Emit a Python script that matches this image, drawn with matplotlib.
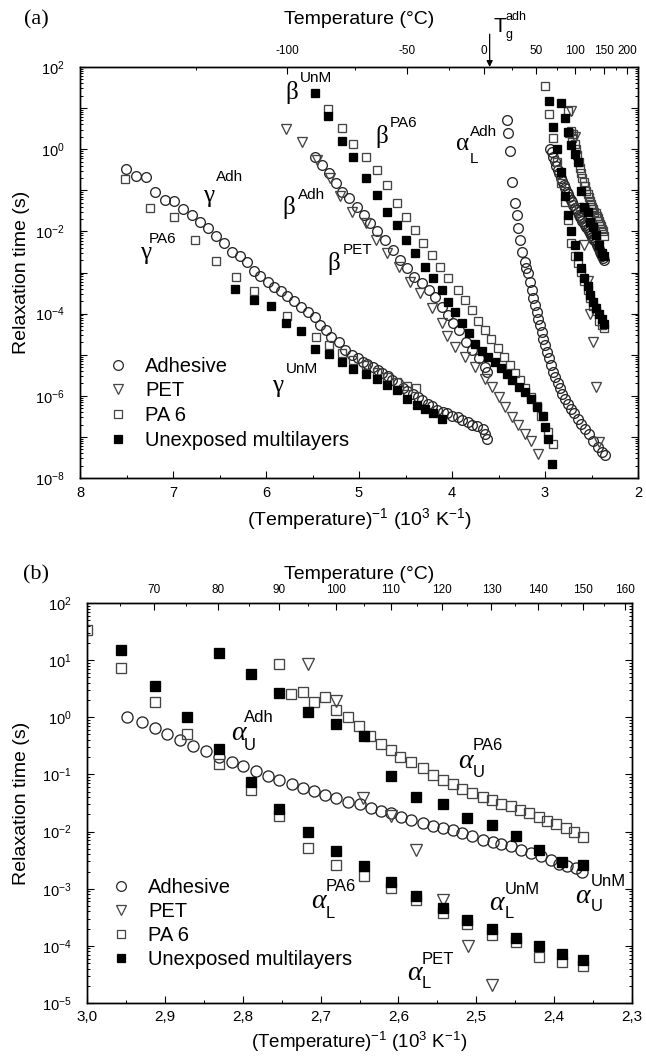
import numpy as np
import matplotlib
matplotlib.use('Agg')
import matplotlib.pyplot as plt
import matplotlib.lines as mlines
from matplotlib.ticker import (FixedLocator, LogLocator, FuncFormatter,
                               NullFormatter, MultipleLocator)

plt.rcParams['font.family'] = ['Liberation Sans', 'DejaVu Sans']
plt.rcParams['mathtext.fontset'] = 'custom'
plt.rcParams['mathtext.rm'] = 'Liberation Sans'
plt.rcParams['mathtext.it'] = 'Liberation Sans:italic'
plt.rcParams['mathtext.bf'] = 'Liberation Sans:bold'
plt.rcParams['axes.unicode_minus'] = False

# ------------------------------------------------------------------
# DATA  (x = 1000/T in 10^3 K^-1, values are log10 of relaxation time / s)
# ------------------------------------------------------------------
# gamma relaxations (panel a)
adh_gamma_x = [7.51, 7.40, 7.29, 7.19, 7.09, 6.99, 6.89, 6.80, 6.71, 6.62,
               6.54, 6.45, 6.37, 6.28, 6.20, 6.13, 6.06, 5.98, 5.91, 5.84,
               5.77, 5.70, 5.62, 5.55, 5.47, 5.42, 5.36, 5.30, 5.22, 5.15,
               5.07, 5.01, 4.96, 4.91, 4.85, 4.80, 4.75, 4.69, 4.64, 4.58,
               4.53, 4.48, 4.42, 4.37, 4.32, 4.26, 4.21, 4.16, 4.10, 4.05,
               4.00, 3.94, 3.89, 3.83, 3.78, 3.73, 3.67, 3.64, 3.62]
adh_gamma_logtau = [-0.48, -0.64, -0.67, -1.05, -1.24, -1.26, -1.45, -1.61, -1.76, -1.92,
                    -2.10, -2.29, -2.51, -2.61, -2.74, -2.96, -3.09, -3.23, -3.35, -3.44,
                    -3.56, -3.70, -3.83, -3.95, -4.08, -4.28, -4.40, -4.57, -4.69, -4.89,
                    -5.01, -5.09, -5.17, -5.23, -5.30, -5.38, -5.44, -5.52, -5.61, -5.70,
                    -5.80, -5.88, -5.96, -6.04, -6.11, -6.19, -6.26, -6.34, -6.40, -6.43,
                    -6.48, -6.52, -6.58, -6.64, -6.70, -6.74, -6.80, -6.92, -7.04]
pa6_gamma_x = [7.52, 7.25, 6.99, 6.76, 6.54, 6.32, 6.13, 5.77, 5.46, 5.32,
               5.18, 5.06, 4.93, 4.81, 4.70, 4.59, 4.48, 4.39]
pa6_gamma_logtau = [-0.73, -1.43, -1.64, -2.21, -2.71, -3.10, -3.44, -4.06, -4.58, -4.77,
                    -4.96, -5.12, -5.26, -5.42, -5.54, -5.66, -5.77, -5.82]
unm_gamma_x = [6.33, 6.13, 5.95, 5.78, 5.62, 5.47, 5.32, 5.18, 5.06, 4.93,
               4.81, 4.70, 4.59, 4.48, 4.38, 4.29, 4.20, 4.11]
unm_gamma_logtau = [-3.39, -3.68, -3.82, -4.22, -4.43, -4.85, -4.98, -5.17, -5.34, -5.46,
                    -5.58, -5.74, -5.87, -6.07, -6.23, -6.31, -6.43, -6.56]

# beta relaxations (panel a)
adh_beta_x = [5.47, 5.40, 5.32, 5.25, 5.18, 5.11, 5.02, 4.95, 4.88, 4.81,
              4.72, 4.63, 4.56, 4.48, 4.41, 4.32, 4.25, 4.18, 4.11, 4.04,
              3.99, 3.93, 3.85, 3.78, 3.71, 3.64, 3.62]
adh_beta_logtau = [-0.18, -0.38, -0.58, -0.83, -1.03, -1.19, -1.40, -1.60, -1.80, -2.00,
                   -2.21, -2.45, -2.70, -2.90, -3.10, -3.26, -3.43, -3.59, -3.83, -4.04,
                   -4.24, -4.40, -4.70, -4.89, -5.09, -5.30, -5.42]
pet_beta_x = [5.78, 5.61, 5.45, 5.31, 5.20, 5.07, 4.93, 4.82, 4.70, 4.57,
              4.45, 4.34, 4.22, 4.11, 4.05, 3.97, 3.86, 3.75, 3.65, 3.57,
              3.50, 3.43, 3.36, 3.29, 3.22, 3.15, 3.07]
pet_beta_logtau = [0.48, 0.17, -0.26, -0.70, -1.15, -1.52, -1.80, -2.21, -2.53, -2.86,
                   -3.22, -3.51, -3.87, -4.24, -4.55, -4.81, -5.05, -5.30, -5.58, -5.79,
                   -6.03, -6.27, -6.52, -6.72, -6.92, -7.09, -7.41]
pa6_beta_x = [5.33, 5.18, 5.06, 4.93, 4.81, 4.70, 4.59, 4.50, 4.40, 4.31,
              4.22, 4.13, 4.04, 3.94, 3.86, 3.79, 3.72, 3.65, 3.58, 3.51,
              3.44, 3.38, 3.32, 3.27, 3.21, 3.15, 3.09, 3.04, 2.97, 2.91]
pa6_beta_logtau = [0.98, 0.52, 0.13, -0.18, -0.50, -0.87, -1.31, -1.64, -1.96, -2.29,
                   -2.57, -2.86, -3.14, -3.43, -3.67, -3.91, -4.18, -4.40, -4.62, -4.84,
                   -5.05, -5.25, -5.45, -5.62, -5.82, -6.03, -6.25, -6.48, -6.88, -7.17]
unm_beta_x = [5.47, 5.33, 5.18, 5.06, 4.93, 4.81, 4.70, 4.59, 4.50, 4.40,
              4.29, 4.20, 4.11, 4.04, 3.97, 3.89, 3.82, 3.75, 3.68, 3.61,
              3.54, 3.47, 3.41, 3.35, 3.28, 3.22, 3.15, 3.09, 3.02, 3.00,
              2.97, 2.92]
unm_beta_logtau = [1.37, 0.80, 0.19, -0.18, -0.70, -1.11, -1.52, -1.84, -2.21, -2.53,
                   -2.86, -3.14, -3.43, -3.71, -3.96, -4.24, -4.48, -4.73, -4.92, -5.05,
                   -5.18, -5.32, -5.46, -5.62, -5.78, -5.91, -6.08, -6.27, -6.48, -6.76,
                   -7.04, -7.65]

# lower alpha relaxation of the adhesive (panel a only)
adh_alphaL_x = [3.41, 3.40, 3.38, 3.35, 3.32, 3.30, 3.29, 3.27, 3.25, 3.22,
                3.20, 3.179, 3.161, 3.143, 3.125, 3.107, 3.089, 3.072, 3.054, 3.036,
                3.018, 3.0, 2.982, 2.957, 2.936, 2.911, 2.893, 2.864, 2.839, 2.814,
                2.785, 2.757, 2.721, 2.686, 2.649, 2.614, 2.571, 2.528, 2.482, 2.435,
                2.392, 2.356]
adh_alphaL_logtau = [0.72, 0.39, -0.05, -0.79, -1.31, -1.60, -1.92, -2.21, -2.49, -2.74,
                     -2.90, -3.02, -3.22, -3.43, -3.63, -3.79, -3.96, -4.12, -4.28, -4.44,
                     -4.61, -4.77, -4.93, -5.09, -5.26, -5.42, -5.54, -5.70, -5.82, -5.95,
                     -6.07, -6.19, -6.31, -6.43, -6.56, -6.68, -6.80, -6.92, -7.09, -7.25,
                     -7.37, -7.45]

# alpha relaxations (both panels)
adh_alphaU_x = [2.948, 2.93, 2.913, 2.897, 2.88, 2.864, 2.847, 2.83, 2.814, 2.80,
                2.783, 2.768, 2.753, 2.737, 2.723, 2.708, 2.694, 2.68, 2.665, 2.65,
                2.635, 2.622, 2.609, 2.597, 2.584, 2.569, 2.556, 2.543, 2.53, 2.518,
                2.505, 2.492, 2.479, 2.468, 2.456, 2.443, 2.43, 2.417, 2.404, 2.394,
                2.383, 2.372, 2.364]
adh_alphaU_logtau = [0.01, -0.08, -0.18, -0.29, -0.40, -0.50, -0.59, -0.69, -0.78, -0.86,
                     -0.94, -1.03, -1.10, -1.17, -1.24, -1.29, -1.36, -1.42, -1.48, -1.52,
                     -1.59, -1.64, -1.68, -1.74, -1.80, -1.85, -1.90, -1.94, -1.98, -2.03,
                     -2.08, -2.14, -2.18, -2.22, -2.26, -2.32, -2.38, -2.43, -2.50, -2.56,
                     -2.60, -2.64, -2.70]
pet_alpha_x = [2.716, 2.68, 2.646, 2.61, 2.577, 2.543, 2.511, 2.48, 2.449, 2.42]
pet_alpha_logtau = [0.94, 0.29, -1.42, -1.72, -2.32, -3.20, -4.00, -4.69, -5.79, -7.13]
pa6_alphaU_x = [2.753, 2.738, 2.723, 2.708, 2.694, 2.68, 2.665, 2.651, 2.636, 2.623,
                2.61, 2.598, 2.584, 2.569, 2.556, 2.543, 2.53, 2.518, 2.505, 2.492,
                2.48, 2.468, 2.456, 2.444, 2.432, 2.42, 2.409, 2.397, 2.385, 2.374,
                2.363]
pa6_alphaU_logtau = [0.93, 0.40, 0.44, 0.27, 0.36, 0.13, 0.0, -0.15, -0.32, -0.46,
                     -0.57, -0.69, -0.79, -0.89, -1.01, -1.10, -1.17, -1.26, -1.33, -1.40,
                     -1.45, -1.52, -1.56, -1.62, -1.68, -1.75, -1.81, -1.87, -1.93, -2.00,
                     -2.10]
pa6_alphaL_x = [3.0, 2.956, 2.913, 2.871, 2.83, 2.79, 2.753, 2.716, 2.68, 2.644,
                2.61, 2.577, 2.543, 2.512, 2.48, 2.449, 2.42, 2.39, 2.363]
pa6_alphaL_logtau = [1.53, 0.86, 0.27, -0.30, -0.82, -1.28, -1.73, -2.29, -2.59, -2.78,
                     -2.99, -3.20, -3.42, -3.62, -3.81, -3.94, -4.19, -4.28, -4.36]
unm_alphaL_x = [2.956, 2.913, 2.871, 2.83, 2.79, 2.753, 2.716, 2.68, 2.644, 2.61,
                2.577, 2.543, 2.512, 2.48, 2.449, 2.42, 2.39, 2.363]
unm_alphaL_logtau = [1.17, 0.55, 0.01, -0.56, -1.13, -1.61, -2.00, -2.34, -2.61, -2.88,
                     -3.13, -3.34, -3.54, -3.71, -3.87, -4.01, -4.14, -4.25]
unm_alphaU_x = [2.83, 2.79, 2.753, 2.716, 2.68, 2.644, 2.61, 2.577, 2.543, 2.512,
                2.48, 2.449, 2.42, 2.39, 2.363]
unm_alphaU_logtau = [1.13, 0.75, 0.43, 0.10, -0.12, -0.32, -1.02, -1.40, -1.52, -1.77,
                     -1.89, -2.08, -2.32, -2.53, -2.59]

legend_labels = ['Adhesive', 'PET', 'PA 6', 'Unexposed multilayers']
top_ticks_a = [-100, -50, 0, 50, 100, 150, 200]
top_minor_a = [-125, -75, -25, 25, 75, 125, 175]
top_ticks_b = [70, 80, 90, 100, 110, 120, 130, 140, 150, 160]
top_minor_b = [65, 75, 85, 95, 105, 115, 125, 135, 145, 155]
TG_ADH_C = 5

# ------------------------------------------------------------------
def inv_T(tc):
    return [1000.0 / (t + 273.15) for t in tc]

STY = {
    'adh': dict(marker='o', mfc='none', mec='#262626'),
    'pet': dict(marker='v', mfc='none', mec='#444444'),
    'pa6': dict(marker='s', mfc='none', mec='#444444'),
    'unm': dict(marker='s', mfc='black', mec='black'),
}


def pts(ax, x, logtau, kind, ms, mew=0.95):
    ax.plot(x, np.power(10.0, logtau), ls='none', ms=ms, mew=mew, **STY[kind])


def greek(ax, x, logy, letter, sup=None, sub=None, size=18, ssize=11,
          italic=False, dx=8, dys=14, dyb=-12):
    y = 10.0 ** logy
    ax.text(x, y, letter, ha='center', va='center', fontsize=size,
            family='Liberation Serif', style='italic' if italic else 'normal')
    if sup:
        ax.annotate(sup, (x, y), xytext=(dx, dys), textcoords='offset pixels',
                    ha='left', va='center', fontsize=ssize)
    if sub:
        ax.annotate(sub, (x, y), xytext=(dx, dyb), textcoords='offset pixels',
                    ha='left', va='center', fontsize=ssize)


def style_axes(ax, xmaj, xmin, yformat):
    ax.set_yscale('log')
    ax.yaxis.set_major_locator(LogLocator(base=10, numticks=30))
    ax.yaxis.set_minor_locator(LogLocator(base=10, subs=np.arange(2, 10), numticks=30))
    ax.yaxis.set_minor_formatter(NullFormatter())
    ax.yaxis.set_major_formatter(FuncFormatter(yformat))
    ax.xaxis.set_major_locator(MultipleLocator(xmaj))
    ax.xaxis.set_minor_locator(MultipleLocator(xmin))
    ax.tick_params(axis='both', which='both', direction='in', top=False, right=True)
    ax.tick_params(axis='both', which='major', length=5, width=0.8)
    ax.tick_params(axis='both', which='minor', length=2.5, width=0.7)
    ax.tick_params(axis='y', which='major', pad=11, labelsize=10.5)
    for s in ax.spines.values():
        s.set_linewidth(1.0)


def top_axis(ax, ticks, minor, fs=8.5, pad=5):
    t = ax.twiny()
    t.set_xlim(ax.get_xlim())
    t.xaxis.set_major_locator(FixedLocator(inv_T(ticks)))
    t.xaxis.set_minor_locator(FixedLocator(inv_T(minor)))
    t.set_xticklabels([str(v) for v in ticks])
    t.tick_params(axis='x', which='both', direction='in', top=True, bottom=False,
                  labeltop=True, labelbottom=False)
    t.tick_params(axis='x', which='major', length=5, width=0.8, labelsize=fs, pad=pad)
    t.tick_params(axis='x', which='minor', length=2.5, width=0.7)
    t.set_xlabel('Temperature (°C)', fontsize=14)
    t.xaxis.set_label_position('top')
    for s in t.spines.values():
        s.set_linewidth(1.0)
    return t


def fmt_even(v, pos):
    e = int(round(np.log10(v)))
    return r'$\mathregular{10^{%d}}$' % e if e % 2 == 0 else ''


def fmt_all(v, pos):
    e = int(round(np.log10(v)))
    return r'$\mathregular{10^{%d}}$' % e


fig = plt.figure(figsize=(6.46, 10.57), dpi=100)
axA = fig.add_axes([80 / 646, 1 - 478 / 1057, 558 / 646, 411 / 1057])
axB = fig.add_axes([87 / 646, 1 - 1003 / 1057, 545 / 646, 400 / 1057])

# ---------------- panel (a) ----------------
msA = dict(adh=7.0, pet=7.5, pa6=6.0, unm=6.0)
pts(axA, adh_gamma_x, adh_gamma_logtau, 'adh', msA['adh'])
pts(axA, adh_beta_x, adh_beta_logtau, 'adh', msA['adh'])
pts(axA, adh_alphaL_x, adh_alphaL_logtau, 'adh', msA['adh'])
pts(axA, adh_alphaU_x, adh_alphaU_logtau, 'adh', msA['adh'])
pts(axA, pet_beta_x, pet_beta_logtau, 'pet', msA['pet'])
pts(axA, pet_alpha_x, pet_alpha_logtau, 'pet', msA['pet'])
pts(axA, pa6_gamma_x, pa6_gamma_logtau, 'pa6', msA['pa6'])
pts(axA, pa6_beta_x, pa6_beta_logtau, 'pa6', msA['pa6'])
pts(axA, pa6_alphaU_x, pa6_alphaU_logtau, 'pa6', msA['pa6'])
pts(axA, pa6_alphaL_x, pa6_alphaL_logtau, 'pa6', msA['pa6'])
pts(axA, unm_gamma_x, unm_gamma_logtau, 'unm', msA['unm'])
pts(axA, unm_beta_x, unm_beta_logtau, 'unm', msA['unm'])
pts(axA, unm_alphaL_x, unm_alphaL_logtau, 'unm', msA['unm'])
pts(axA, unm_alphaU_x, unm_alphaU_logtau, 'unm', msA['unm'])

axA.set_xlim(8, 2)
axA.set_ylim(1e-8, 1e2)
style_axes(axA, 1.0, 0.5, fmt_even)
axA.xaxis.set_major_formatter(FuncFormatter(lambda v, p: '%d' % round(v)))
axA.tick_params(axis='x', which='major', labelsize=10.5, pad=6)
axA.set_xlabel(r'(Temperature)$^{\mathregular{-1}}$ (10$^{\mathregular{3}}$ K$^{\mathregular{-1}}$)', fontsize=14)
axA.xaxis.set_label_coords(0.5, -0.068)
axA.set_ylabel('Relaxation time (s)', fontsize=14)
axA.yaxis.set_label_coords(-0.09, 0.5)
tA = top_axis(axA, top_ticks_a, top_minor_a, pad=7)
tA.xaxis.set_label_coords(0.5, 1.105)

# Tg arrow
xg = 1000.0 / (TG_ADH_C + 273.15)
axA.annotate('', xy=(xg, 1.0), xycoords=('data', 'axes fraction'),
             xytext=(xg, 1.08), textcoords=('data', 'axes fraction'),
             arrowprops=dict(arrowstyle='-|>', color='black', lw=0.9,
                             mutation_scale=9, shrinkA=0, shrinkB=0),
             annotation_clip=False)
axA.annotate('T', xy=(xg, 1.0), xycoords=('data', 'axes fraction'),
             xytext=(4, 40), textcoords='offset pixels', ha='left', va='center',
             fontsize=15, annotation_clip=False)
axA.annotate('adh', xy=(xg, 1.0), xycoords=('data', 'axes fraction'),
             xytext=(16, 50), textcoords='offset pixels', ha='left', va='center',
             fontsize=9, annotation_clip=False)
axA.annotate('g', xy=(xg, 1.0), xycoords=('data', 'axes fraction'),
             xytext=(16, 32), textcoords='offset pixels', ha='left', va='center',
             fontsize=9, annotation_clip=False)

greek(axA, 7.30, -2.53, 'γ', 'PA6', dx=4, dys=14)
greek(axA, 6.62, -1.13, 'γ', 'Adh', dx=8, dys=19)
greek(axA, 5.72, 1.37, 'β', 'UnM', dx=8, dys=15)
greek(axA, 5.75, -1.43, 'β', 'Adh', dx=9, dys=13)
greek(axA, 5.27, -2.78, 'β', 'PET', dx=9, dys=13)
greek(axA, 4.76, 0.30, 'β', 'PA6', dx=8, dys=14)
greek(axA, 3.89, 0.13, 'α', 'Adh', 'L', dx=8, dys=12, dyb=-15)
greek(axA, 5.87, -5.77, 'γ', 'UnM', dx=8, dys=17)


def legend_handles(sizes):
    return [mlines.Line2D([], [], ls='none', ms=sizes[k], mew=0.9, **STY[k])
            for k in ('adh', 'pet', 'pa6', 'unm')]


axA.legend(legend_handles(dict(adh=7, pet=7, pa6=6, unm=6)), legend_labels,
           loc='upper left', bbox_to_anchor=(0.05, 0.295), frameon=False,
           fontsize=14.5, handlelength=1.0, handletextpad=0.85, labelspacing=0.28,
           borderpad=0, borderaxespad=0, numpoints=1)

fig.text(36 / 646, 1 - 20 / 1057, '(a)', family='Liberation Serif', fontsize=16,
         ha='center', va='center')

# ---------------- panel (b) ----------------
msB = dict(adh=8.0, pet=8.0, pa6=6.5, unm=6.5)
pts(axB, adh_alphaU_x, adh_alphaU_logtau, 'adh', msB['adh'])
pts(axB, pet_alpha_x, pet_alpha_logtau, 'pet', msB['pet'])
pts(axB, pa6_alphaU_x, pa6_alphaU_logtau, 'pa6', msB['pa6'])
pts(axB, pa6_alphaL_x, pa6_alphaL_logtau, 'pa6', msB['pa6'])
pts(axB, unm_alphaL_x, unm_alphaL_logtau, 'unm', msB['unm'])
pts(axB, unm_alphaU_x, unm_alphaU_logtau, 'unm', msB['unm'])

axB.set_xlim(3.0, 2.3)
axB.set_ylim(1e-5, 1e2)
style_axes(axB, 0.1, 0.05, fmt_all)
axB.xaxis.set_major_formatter(FuncFormatter(lambda v, p: ('%.1f' % v).replace('.', ',')))
axB.tick_params(axis='x', which='major', labelsize=11, pad=5)
axB.set_xlabel(r'(Temperature)$^{\mathregular{-1}}$ (10$^{\mathregular{3}}$ K$^{\mathregular{-1}}$)', fontsize=13.5)
axB.xaxis.set_label_coords(0.5, -0.066)
axB.set_ylabel('Relaxation time (s)', fontsize=14)
axB.yaxis.set_label_coords(-0.105, 0.5)
tB = top_axis(axB, top_ticks_b, top_minor_b, pad=5)
tB.xaxis.set_label_coords(0.5, 1.06)

kw = dict(size=20, ssize=12, italic=True)
greek(axB, 2.806, -0.28, 'α', 'Adh', 'U', dx=6, dys=16, dyb=-12, **kw)
greek(axB, 2.514, -0.78, 'α', 'PA6', 'U', dx=7, dys=16, dyb=-11, **kw)
greek(axB, 2.703, -3.23, 'α', 'PA6', 'L', dx=7, dys=15, dyb=-12, **kw)
greek(axB, 2.474, -3.26, 'α', 'UnM', 'L', dx=8, dys=14, dyb=-10, **kw)
greek(axB, 2.363, -3.13, 'α', 'UnM', 'U', dx=8, dys=15, dyb=-10, **kw)
greek(axB, 2.58, -4.48, 'α', 'PET', 'L', dx=8, dys=14, dyb=-10, **kw)

axB.legend(legend_handles(dict(adh=7, pet=7, pa6=6, unm=6)), legend_labels,
           loc='upper left', bbox_to_anchor=(0.044, 0.312), frameon=False,
           fontsize=14.5, handlelength=1.0, handletextpad=0.85, labelspacing=0.24,
           borderpad=0, borderaxespad=0, numpoints=1)

fig.text(36 / 646, 1 - 575 / 1057, '(b)', family='Liberation Serif', fontsize=16,
         ha='center', va='center')

fig.savefig('out.png', dpi=100)
